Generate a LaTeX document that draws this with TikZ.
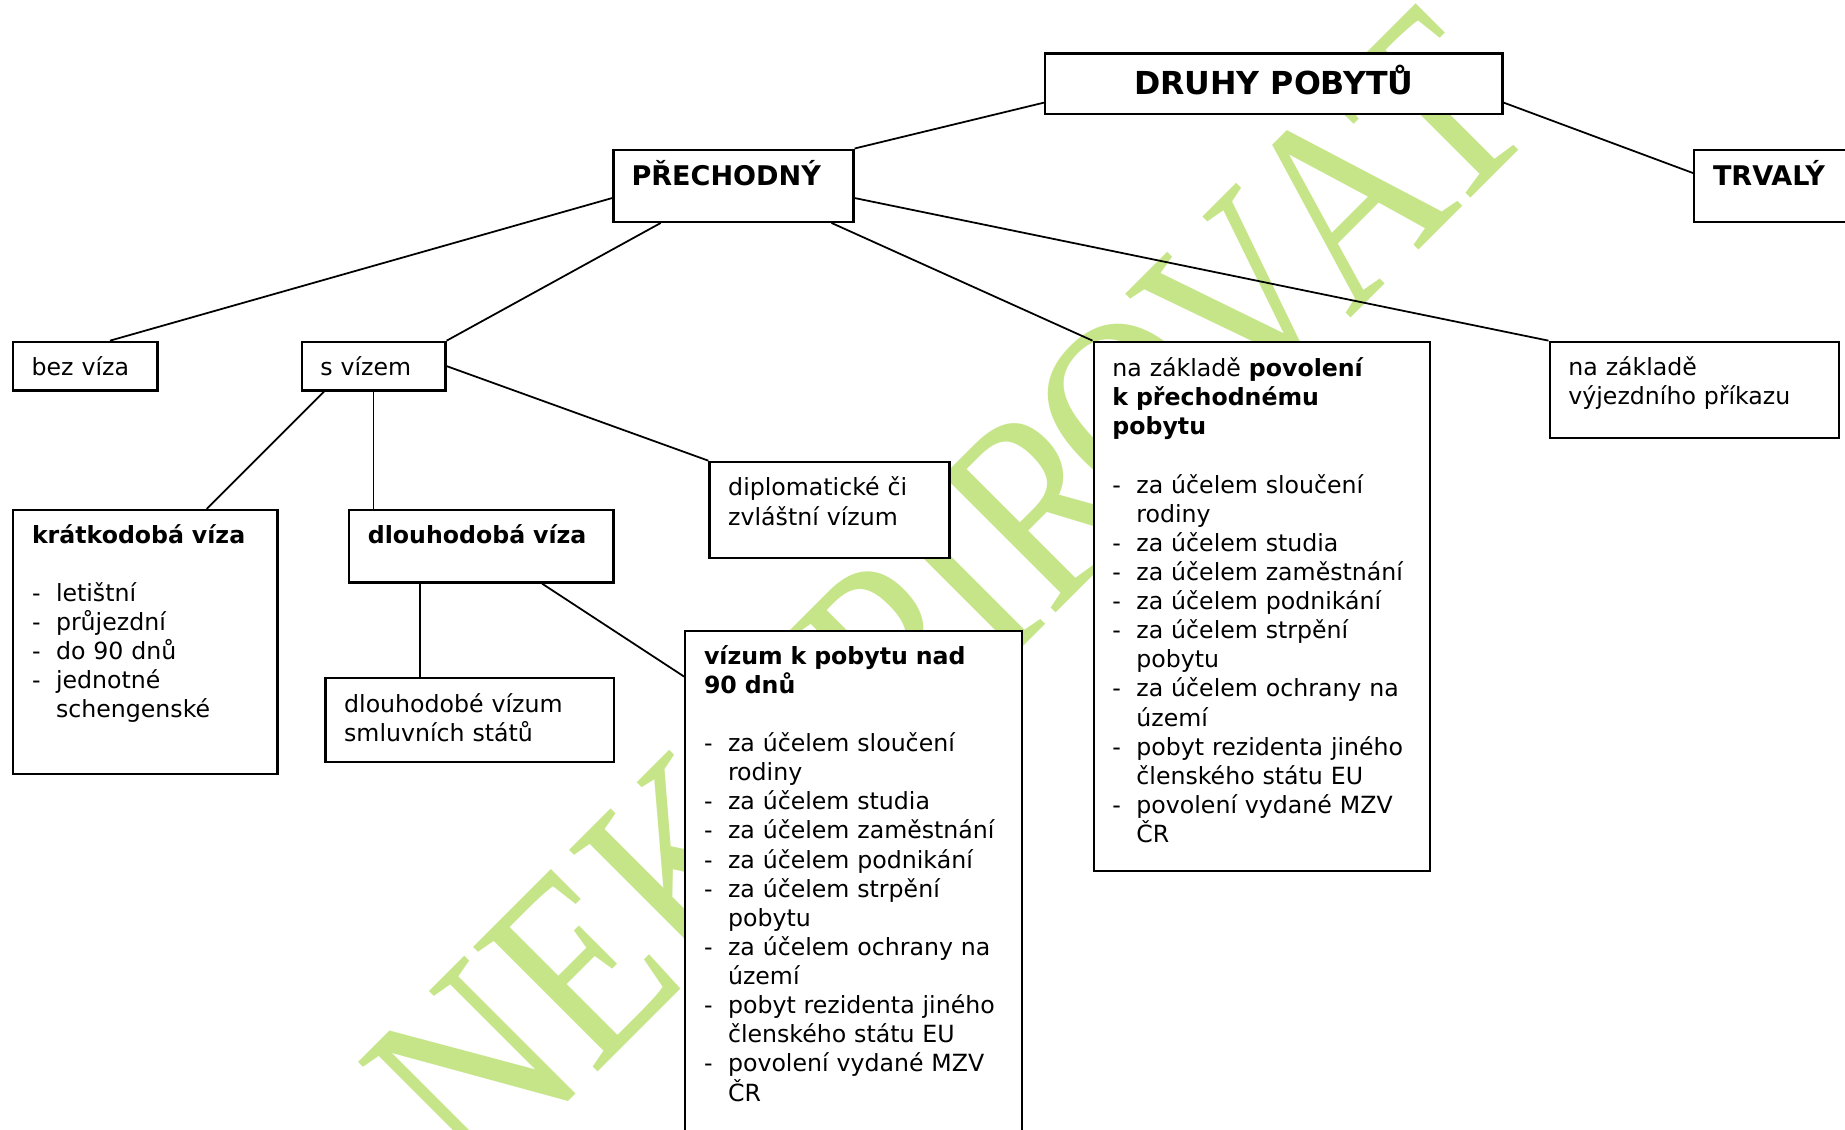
\documentclass[tikz,border=0pt]{standalone}
\usepackage{fontspec}
\setmainfont{DejaVu Sans}
\newfontfamily\wmfont{Liberation Serif}
\usetikzlibrary{calc}
\definecolor{wmgreen}{RGB}{198,229,136}
\newcommand{\lidash}{\makebox[10.2pt][l]{-}}
\newcommand{\liind}{\hspace*{10.2pt}}
\tikzset{
  box/.style={draw=black, line width=1pt, fill=white, inner sep=0pt, anchor=north west},
  txt/.style={anchor=base west, inner sep=0pt, align=left, text width=#1*0.5pt,
              font=\fontsize{10.05pt}{12.375pt}\selectfont},
  head/.style={anchor=base west, inner sep=0pt, font=\bfseries\fontsize{11.5pt}{13pt}\selectfont},
  link/.style={draw=black, line width=0.75pt},
  wm/.style={inner sep=0pt, text=wmgreen, rotate=45, anchor=base,
             font=\wmfont\fontsize{95.25pt}{96pt}\selectfont}
}
\begin{document}
\begin{tikzpicture}[x=0.5pt, y=-0.5pt]
\fill[white] (0,0) rectangle (1568,960);
\useasboundingbox (0,0) rectangle (1568,960);

% watermark, letter by letter along a 45 degree baseline
\coordinate (wmorigin) at (504,915);
\foreach \ch/\d [count=\i] in {N/-68.8, E/58.2, K/185.2, O/312.2, P/434, I/518.6, R/613.9, O/726, V/857, A/978.4, T/1084.2}
  \node[wm] (wm\i) at ($(wmorigin)+(\d*0.7071,-\d*0.7071)$) {\scalebox{1}[1.2]{\ch}};

% boxes
\node[box, minimum width=388.6*0.5pt, minimum height=51.5*0.5pt] (druhy) at (887.3,44.4) {};
\node[box, minimum width=204*0.5pt, minimum height=61.3*0.5pt] (prech) at (520.3,126.2) {};
\node[box, minimum width=160*0.5pt, minimum height=61.3*0.5pt] (trvaly) at (1438.9,126.2) {};
\node[box, minimum width=123*0.5pt, minimum height=41.3*0.5pt] (bez) at (10,289.5) {};
\node[box, minimum width=122.2*0.5pt, minimum height=41.3*0.5pt] (svizem) at (255.4,289.5) {};
\node[box, minimum width=224.5*0.5pt, minimum height=224.5*0.5pt] (krat) at (10.3,432.5) {};
\node[box, minimum width=224.5*0.5pt, minimum height=61.5*0.5pt] (dlouh) at (295.8,432.5) {};
\node[box, minimum width=204*0.5pt, minimum height=81.8*0.5pt] (diplo) at (602,391.5) {};
\node[box, minimum width=245*0.5pt, minimum height=71.4*0.5pt] (smluv) at (275.6,575.2) {};
\node[box, minimum width=286.2*0.5pt, minimum height=460*0.5pt] (vizum) at (581.4,535) {};
\node[box, minimum width=285.8*0.5pt, minimum height=449.8*0.5pt] (povol) at (928.5,289.5) {};
\node[box, minimum width=245.8*0.5pt, minimum height=81.8*0.5pt] (vyjezd) at (1316,289.5) {};

% connectors
\draw[link] ($(druhy.north west)!0.8!(druhy.south west)$) -- (prech.north east);
\draw[link] ($(druhy.north east)!0.8!(druhy.south east)$) -- ($(trvaly.north west)!0.33!(trvaly.south west)$);
\draw[link] ($(prech.north west)!0.665!(prech.south west)$) -- ($(bez.north west)!0.668!(bez.north east)$);
\draw[link] ($(prech.south west)!0.2!(prech.south east)$) -- (svizem.north east);
\draw[link] ($(prech.south west)!0.905!(prech.south east)$) -- (povol.north west);
\draw[link] ($(prech.north east)!0.665!(prech.south east)$) -- (vyjezd.north west);
\draw[link] ($(svizem.south west)!0.16!(svizem.south east)$) -- ($(krat.north west)!0.73!(krat.north east)$);
\draw[link] (svizem.south) -- (svizem.south |- dlouh.north);
\draw[link] (svizem.east) -- (diplo.north west);
\coordinate (dlA) at ($(dlouh.south west)!0.27!(dlouh.south east)$);
\draw[link] (dlA) -- (dlA |- smluv.north);
\draw[link] ($(dlouh.south west)!0.728!(dlouh.south east)$) -- ($(vizum.north west)+(0,40)$);

% texts
\node[anchor=base, inner sep=0pt, font=\bfseries\fontsize{13.45pt}{16pt}\selectfont] (tdruhy) at ($(druhy.north)+(0,35.8)$) {DRUHY POBYTŮ};
\node[head] (tprech) at ($(prech.north west)+(16,31.5)$) {PŘECHODNÝ};
\node[head] (ttrvaly) at ($(trvaly.north west)+(16.5,31.5)$) {TRVALÝ};
\node[txt=100] (tbez) at ($(bez.north west)+(16.5,30)$) {bez víza};
\node[txt=100] (tsvizem) at ($(svizem.north west)+(16.5,30)$) {s vízem};
\node[txt=200] (tkrat) at ($(krat.north west)+(16.5,29)$) {\textbf{krátkodobá víza}\\[\baselineskip]
  \lidash letištní\\ \lidash průjezdní\\ \lidash do 90 dnů\\ \lidash jednotné\\ \liind schengenské};
\node[txt=200] (tdlouh) at ($(dlouh.north west)+(16.5,29)$) {\textbf{dlouhodobá víza}};
\node[txt=180] (tdiplo) at ($(diplo.north west)+(16.5,30)$) {diplomatické či\\ zvláštní vízum};
\node[txt=220] (tsmluv) at ($(smluv.north west)+(16.5,30)$) {dlouhodobé vízum\\ smluvních států};
\node[txt=262] (tvizum) at ($(vizum.north west)+(16.5,29.5)$) {\textbf{vízum k pobytu nad}\\ \textbf{90 dnů}\\[\baselineskip]
  \lidash za účelem sloučení\\ \liind rodiny\\ \lidash za účelem studia\\ \lidash za účelem zaměstnání\\
  \lidash za účelem podnikání\\ \lidash za účelem strpění\\ \liind pobytu\\ \lidash za účelem ochrany na\\
  \liind území\\ \lidash pobyt rezidenta jiného\\ \liind členského státu EU\\ \lidash povolení vydané MZV\\ \liind ČR};
\node[txt=262] (tpovol) at ($(povol.north west)+(16.5,30.5)$) {na základě \textbf{povolení}\\ \textbf{k přechodnému}\\ \textbf{pobytu}\\[\baselineskip]
  \lidash za účelem sloučení\\ \liind rodiny\\ \lidash za účelem studia\\ \lidash za účelem zaměstnání\\
  \lidash za účelem podnikání\\ \lidash za účelem strpění\\ \liind pobytu\\ \lidash za účelem ochrany na\\
  \liind území\\ \lidash pobyt rezidenta jiného\\ \liind členského státu EU\\ \lidash povolení vydané MZV\\ \liind ČR};
\node[txt=220] (tvyjezd) at ($(vyjezd.north west)+(16.5,29.5)$) {na základě\\ výjezdního příkazu};
\end{tikzpicture}
\end{document}
